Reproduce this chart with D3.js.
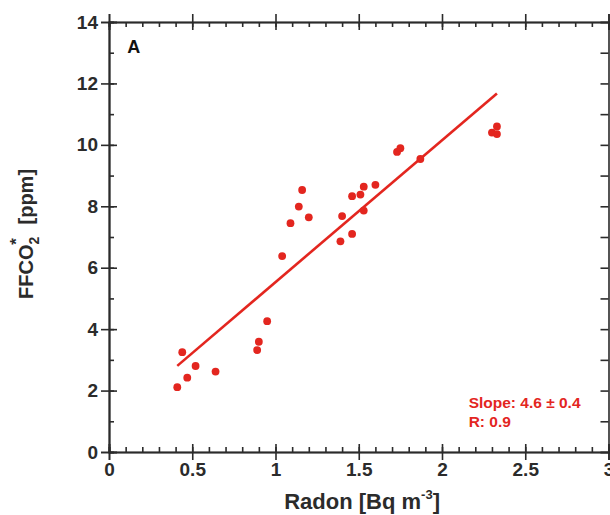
<!DOCTYPE html>
<html lang="en">
  <head>
    <meta charset="utf-8" />
    <title>FFCO2 vs Radon</title>
    <script type="text/javascript" src="https://cdn.jsdelivr.net/npm/d3@7"></script>
    <style>
      body { margin: 0; background: white; }
      text { font-family: "Liberation Sans", Arial, sans-serif; font-weight: bold; }
    </style>
  </head>
  <body>
    <script type="text/javascript">
// radon [Bq m-3] and FFCO2* [ppm]
var radon = [0.41, 0.44, 0.47, 0.52, 0.64, 0.89, 0.90, 0.95,
             1.04, 1.09, 1.14, 1.16, 1.20, 1.39, 1.40, 1.46, 1.46,
             1.51, 1.53, 1.53, 1.60, 1.73, 1.75, 1.87, 2.30, 2.33, 2.33];
var ffco2 = [2.11, 3.25, 2.42, 2.80, 2.62, 3.32, 3.59, 4.26,
             6.38, 7.45, 7.99, 8.53, 7.64, 6.86, 7.68, 7.10, 8.33,
             8.38, 8.64, 7.86, 8.70, 9.77, 9.89, 9.54, 10.40, 10.60, 10.35];
var fitSlope = 4.62;
var fitIntercept = 0.91;
var fitRange = [0.41, 2.33];
var xTicks = [0, 0.5, 1, 1.5, 2, 2.5, 3];
var yTicks = [0, 2, 4, 6, 8, 10, 12, 14];

var w = 610;
var h = 515;
var pad = { left: 109, right: 1.5, top: 22, bottom: 63 };
var red = "#e3261f";
var ink = "#2b2b2b";

var svg = d3.select("body")
            .append("svg")
            .attr("width", w)
            .attr("height", h);

var xScale = d3.scaleLinear()
               .domain([0, 3])
               .range([pad.left, w - pad.right]);
var yScale = d3.scaleLinear()
               .domain([0, 14])
               .range([h - pad.bottom, pad.top]);

var xMinor = d3.range(0, 3.001, 0.1).map(function(d) { return +d.toFixed(1); });
var yMinor = d3.range(0, 15, 1);

function styleAxis(g) {
  g.selectAll("path, line").attr("stroke", ink).attr("stroke-width", 1.6);
  g.selectAll("text")
   .attr("fill", ink)
   .attr("font-size", "19px")
   .attr("font-family", "Liberation Sans, Arial, sans-serif")
   .attr("font-weight", "bold");
}

var bottomY = h - pad.bottom;
// bottom axis: labels + outward half of major ticks
svg.append("g")
   .attr("transform", "translate(0," + bottomY + ")")
   .call(d3.axisBottom(xScale).tickValues(xTicks).tickSize(8).tickPadding(3)
           .tickFormat(d3.format("")))
   .call(styleAxis);
svg.append("g")
   .attr("transform", "translate(0," + bottomY + ")")
   .call(d3.axisBottom(xScale).tickValues(xTicks).tickSize(-8).tickFormat(""))
   .call(styleAxis);
svg.append("g")
   .attr("transform", "translate(0," + bottomY + ")")
   .call(d3.axisBottom(xScale).tickValues(xMinor).tickSize(-5).tickFormat(""))
   .call(styleAxis);

// top axis
svg.append("g")
   .attr("transform", "translate(0," + pad.top + ")")
   .call(d3.axisTop(xScale).tickValues(xTicks).tickSize(8).tickFormat(""))
   .call(styleAxis);
svg.append("g")
   .attr("transform", "translate(0," + pad.top + ")")
   .call(d3.axisTop(xScale).tickValues(xTicks).tickSize(-8).tickFormat(""))
   .call(styleAxis);
svg.append("g")
   .attr("transform", "translate(0," + pad.top + ")")
   .call(d3.axisTop(xScale).tickValues(xMinor).tickSize(-5).tickFormat(""))
   .call(styleAxis);

// left axis
svg.append("g")
   .attr("transform", "translate(" + pad.left + ",0)")
   .call(d3.axisLeft(yScale).tickValues(yTicks).tickSize(8).tickPadding(3))
   .call(styleAxis);
svg.append("g")
   .attr("transform", "translate(" + pad.left + ",0)")
   .call(d3.axisLeft(yScale).tickValues(yTicks).tickSize(-8).tickFormat(""))
   .call(styleAxis);
svg.append("g")
   .attr("transform", "translate(" + pad.left + ",0)")
   .call(d3.axisLeft(yScale).tickValues(yMinor).tickSize(-5).tickFormat(""))
   .call(styleAxis);

// right axis, inward ticks only
svg.append("g")
   .attr("transform", "translate(" + (w - pad.right) + ",0)")
   .call(d3.axisRight(yScale).tickValues(yMinor).tickSize(-8).tickFormat(""))
   .call(styleAxis);

// panel letter
svg.append("text")
   .attr("x", xScale(0.11))
   .attr("y", yScale(13.0))
   .attr("font-size", "18px")
   .attr("fill", "#111")
   .text("A");

// fit line
svg.append("line")
   .attr("x1", xScale(fitRange[0]))
   .attr("y1", yScale(fitIntercept + fitSlope * fitRange[0]))
   .attr("x2", xScale(fitRange[1]))
   .attr("y2", yScale(fitIntercept + fitSlope * fitRange[1]))
   .attr("stroke", red)
   .attr("stroke-width", 2.6);

// points
svg.append("g")
   .attr("id", "points")
   .selectAll("circle")
   .data(radon)
   .enter()
   .append("circle")
   .attr("cx", function(d) { return xScale(d); })
   .attr("cy", function(d, i) { return yScale(ffco2[i]); })
   .attr("r", 3.9)
   .attr("fill", red);

// fit annotation
var note = svg.append("g")
              .attr("fill", red)
              .attr("font-size", "15.5px");
note.append("text")
    .attr("x", xScale(2.16))
    .attr("y", yScale(1.43))
    .text("Slope: 4.6 \u00b1 0.4");
note.append("text")
    .attr("x", xScale(2.16))
    .attr("y", yScale(0.8))
    .text("R: 0.9");

// axis titles
var xTitle = svg.append("text")
                .attr("x", xScale(1.52))
                .attr("y", 509)
                .attr("text-anchor", "middle")
                .attr("font-size", "22px")
                .attr("fill", ink);
xTitle.append("tspan").text("Radon [Bq m");
xTitle.append("tspan").attr("dy", -10).attr("font-size", "13px").text("-3");
xTitle.append("tspan").attr("dy", 10).text("]");

var yTitle = svg.append("text")
                .attr("transform", "translate(33," + yScale(7.1) + ") rotate(-90)")
                .attr("text-anchor", "middle")
                .attr("font-size", "20px")
                .attr("fill", ink);
yTitle.append("tspan").text("FFCO");
yTitle.append("tspan").attr("dy", 6).attr("font-size", "14px").text("2");
yTitle.append("tspan").attr("dx", -8).attr("dy", -17).attr("font-size", "17px").text("*");
yTitle.append("tspan").attr("dx", 8).attr("dy", 11).text(" [ppm]");
    </script>
  </body>
</html>
